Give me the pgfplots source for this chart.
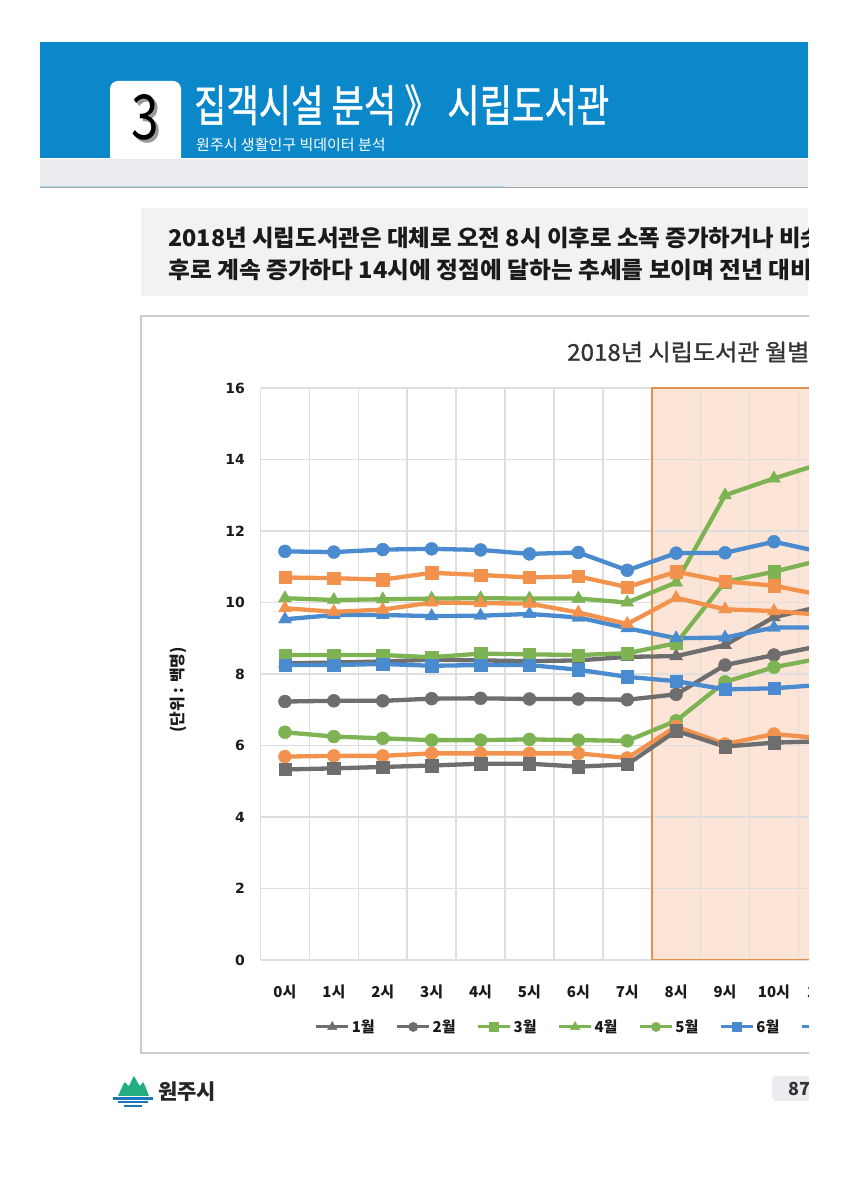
\documentclass[border=0pt]{standalone}
\usepackage{fontspec}
\usepackage{pgfplots}
\pgfplotsset{compat=1.18}
\setmainfont{Noto Sans CJK KR}
\newfontfamily\krmed{Noto Sans CJK KR}[FakeBold=1.2]
\newfontfamily\dv{DejaVu Sans}
\definecolor{hdrblue}{HTML}{0A88CA}
\definecolor{bandgray}{HTML}{EBECF0}
\definecolor{boxgray}{HTML}{F2F2F2}
\definecolor{sgray}{HTML}{6E6E6E}
\definecolor{sgreen}{HTML}{7DB352}
\definecolor{sblue}{HTML}{4A8BD0}
\definecolor{sorange}{HTML}{F2924C}
\definecolor{shadefill}{HTML}{FCE4D6}
\definecolor{shadeb}{HTML}{E3904F}
\definecolor{gridc}{HTML}{DEDEDE}
\definecolor{txt}{HTML}{1A1A1A}
\definecolor{logogreen}{HTML}{22AE80}
\definecolor{logoblue}{HTML}{1B75BB}
\newcommand\fs[1]{\fontsize{#1}{#1}\selectfont}
\pgfdeclarelayer{page}
\pgfdeclarelayer{cover}
\pgfplotsset{
  layers/mine/.define layer set={page,axis background,axis grid,axis ticks,axis lines,axis tick labels,main,axis descriptions,axis foreground,cover}{},
  ser/.style={line width=4.3pt, mark options={line width=0.4pt, solid}},
  tri/.style={ser, color=#1, mark=triangle*, mark size=7.5pt},
  cir/.style={ser, color=#1, mark=*, mark size=6.5pt},
  sqr/.style={ser, color=#1, mark=square*, mark size=6.2pt},
}
\begin{document}
\begin{tikzpicture}[x=1pt,y=1pt]
\pgfplotsset{set layers=mine}
\begin{pgfonlayer}{page}
\fill[white] (0,0) rectangle (847,1200);
\end{pgfonlayer}
% ---------- header ----------
\fill[hdrblue] (40,1042) rectangle (808,1158);
\fill[white, rounded corners=8pt] (110,1030) rectangle (181,1119);
\fill[bandgray] (40,1012) rectangle (808,1041);
\draw[line width=1pt, color=black!35] (40,1012.5) -- (808,1012.5);
\draw[line width=1pt, color=hdrblue!35] (40,1013.2) -- (505,1013.2);
\node[text=black!40, xscale=0.8, inner sep=0] at (148.5,1080) {\fs{62}3};
\node[text=black, xscale=0.8, inner sep=0] at (145.5,1083) {\fs{62}3};
\node[anchor=west, text=white, xscale=0.8, inner sep=0] at (194,1095) {\krmed\fs{44}집객시설 분석 》 시립도서관};
\node[anchor=west, text=white, inner sep=0] at (196,1055) {\fs{15}원주시 생활인구 빅데이터 분석};
% ---------- text box ----------
\fill[boxgray] (141,904) rectangle (808,992);
\node[anchor=west, text=txt, inner sep=0, xscale=1.02] at (168,962) {\fs{23}\bfseries 2018년 시립도서관은 대체로 오전 8시 이후로 소폭 증가하거나 비슷한};
\node[anchor=west, text=txt, inner sep=0, xscale=1.03] at (168,930) {\fs{23}\bfseries 후로 계속 증가하다 14시에 정점에 달하는 추세를 보이며 전년 대비 증가};
% ---------- chart frame ----------
\draw[line width=1.3pt, color=black!20] (141,147) rectangle (900,884);
\node[anchor=west, text=black!80, inner sep=0, xscale=1.05] at (567,848) {\krmed\fs{23}2018년 시립도서관 월별 시간대별 생활인구};
\node[rotate=90, text=txt, inner sep=0] at (178,510) {\fs{16}\bfseries (단위 : 백명)};
% ---------- axis ----------
\begin{axis}[
  at={(260.5pt,240pt)}, anchor=south west,
  scale only axis, width=586.8pt, height=572pt,
  xmin=-0.5, xmax=11.5, ymin=0, ymax=16,
  axis line style={draw=none}, tick style={draw=none},
  xtick={0,...,11},
  xticklabels={0시,1시,2시,3시,4시,5시,6시,7시,8시,9시,10시,11시},
  minor xtick={-0.5,0.5,...,11.5},
  ytick={0,2,...,16}, yticklabels={0,2,4,6,8,10,12,14,16},
  xminorgrids, ymajorgrids,
  minor grid style={gridc, line width=1.6pt},
  major grid style={gridc, line width=1.6pt},
  xticklabel style={font=\fs{15}\bfseries, text=txt, yshift=-21pt},
  yticklabel style={font=\dv\bfseries\fs{14}, text=txt, xshift=-12pt},
  legend columns=12,
  legend style={at={(rel axis cs:0.087,-0.117)}, anchor=west, draw=none, fill=none,
    font=\fs{15}\bfseries, text=txt,
    /tikz/every even column/.append style={column sep=19pt}},
  legend image code/.code={\draw[mark repeat=2,mark phase=2,#1,line width=3pt,every mark/.append style={scale=0.72}] plot coordinates {(0pt,0pt) (16pt,0pt) (32pt,0pt)};},
]
\begin{pgfonlayer}{axis background}
\fill[shadefill] (axis cs:7.5,0) rectangle (axis cs:14,16);
\end{pgfonlayer}
\draw[shadeb, line width=1.6pt] (axis cs:7.5,0) rectangle (axis cs:14,16);
% 1월
\addplot[tri=sgray] coordinates {(0,8.30)(1,8.32)(2,8.35)(3,8.40)(4,8.38)(5,8.36)(6,8.38)(7,8.48)(8,8.50)(9,8.81)(10,9.59)(11,9.90)};
% 2월
\addplot[cir=sgray] coordinates {(0,7.23)(1,7.25)(2,7.25)(3,7.31)(4,7.32)(5,7.30)(6,7.30)(7,7.28)(8,7.43)(9,8.25)(10,8.53)(11,8.80)};
% 3월
\addplot[sqr=sgreen] coordinates {(0,8.53)(1,8.53)(2,8.53)(3,8.47)(4,8.57)(5,8.55)(6,8.53)(7,8.58)(8,8.86)(9,10.58)(10,10.86)(11,11.20)};
% 4월
\addplot[tri=sgreen] coordinates {(0,10.12)(1,10.07)(2,10.09)(3,10.11)(4,10.12)(5,10.11)(6,10.11)(7,10.00)(8,10.56)(9,13.00)(10,13.47)(11,13.90)};
% 5월
\addplot[cir=sgreen] coordinates {(0,6.37)(1,6.25)(2,6.20)(3,6.15)(4,6.15)(5,6.17)(6,6.15)(7,6.13)(8,6.69)(9,7.78)(10,8.19)(11,8.45)};
% 6월
\addplot[sqr=sblue] coordinates {(0,8.25)(1,8.25)(2,8.28)(3,8.23)(4,8.25)(5,8.25)(6,8.12)(7,7.92)(8,7.80)(9,7.57)(10,7.60)(11,7.70)};
% 7월
\addplot[tri=sblue] coordinates {(0,9.53)(1,9.65)(2,9.65)(3,9.62)(4,9.63)(5,9.68)(6,9.58)(7,9.28)(8,9.00)(9,9.02)(10,9.30)(11,9.30)};
% 8월
\addplot[cir=sblue] coordinates {(0,11.43)(1,11.41)(2,11.48)(3,11.50)(4,11.47)(5,11.36)(6,11.40)(7,10.90)(8,11.38)(9,11.39)(10,11.70)(11,11.40)};
% 9월
\addplot[sqr=sorange] coordinates {(0,10.70)(1,10.68)(2,10.64)(3,10.83)(4,10.77)(5,10.70)(6,10.73)(7,10.43)(8,10.86)(9,10.59)(10,10.47)(11,10.20)};
% 10월
\addplot[tri=sorange] coordinates {(0,9.84)(1,9.74)(2,9.80)(3,10.00)(4,9.98)(5,9.97)(6,9.72)(7,9.40)(8,10.13)(9,9.81)(10,9.76)(11,9.65)};
% 11월
\addplot[cir=sorange] coordinates {(0,5.69)(1,5.71)(2,5.71)(3,5.78)(4,5.78)(5,5.78)(6,5.78)(7,5.65)(8,6.53)(9,6.04)(10,6.32)(11,6.20)};
% 12월
\addplot[sqr=sgray] coordinates {(0,5.33)(1,5.36)(2,5.40)(3,5.44)(4,5.49)(5,5.49)(6,5.41)(7,5.47)(8,6.41)(9,5.97)(10,6.08)(11,6.12)};
\legend{1월,2월,3월,4월,5월,6월,7월,8월,9월,10월,11월,12월}
\end{axis}
% ---------- footer ----------
\fill[logogreen] (118,104) .. controls (121,110) and (123,116) .. (125,118)
  .. controls (127,116) and (128,114) .. (129,114)
  .. controls (131,118) and (133,123) .. (134,124)
  .. controls (136,121) and (138,116) .. (140,114)
  .. controls (141,115) and (142,117) .. (143,118)
  .. controls (145,115) and (147,109) .. (149,104) -- cycle;
\draw[logoblue, line width=2.2pt] (113,101.5) -- (153,101.5);
\draw[logoblue, line width=2pt] (118,97.5) -- (148,97.5);
\draw[logoblue, line width=1.8pt] (124,94) -- (142,94);
\node[anchor=west, text=black!85, inner sep=0] at (158,108) {\fs{21}\bfseries 원주시};
\fill[bandgray, rounded corners=4pt] (772,99) rectangle (830,124);
\node[text=black!80, inner sep=0] at (799,111.5) {\fs{18}\bfseries 87};
% cut at page edge
\begin{pgfonlayer}{cover}
\fill[white] (808.5,-100) rectangle (2500,1300);
\end{pgfonlayer}
\pgfresetboundingbox
\path[use as bounding box] (0,0) rectangle (847,1200);
\end{tikzpicture}
\end{document}
